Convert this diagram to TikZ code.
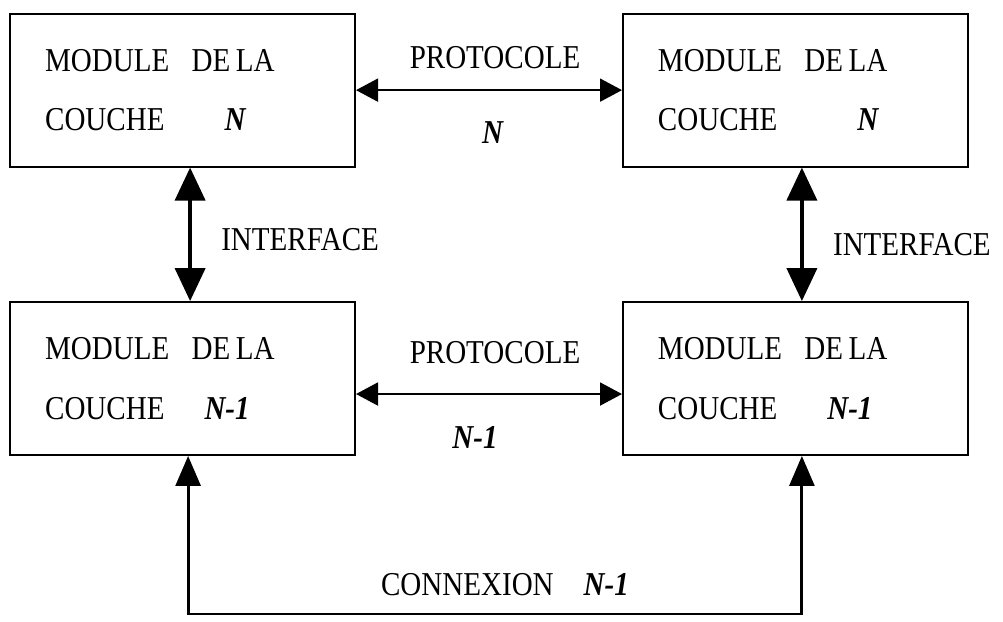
\documentclass[tikz,border=0pt]{standalone}
\usepackage{fontspec}
\setmainfont{Liberation Serif}[FakeStretch=0.87]
\usetikzlibrary{arrows.meta,positioning}

\tikzset{
  modbox/.style={draw, line width=1.1pt, minimum width=6.88cm, minimum height=3.06cm,
                 text width=5.5cm, inner xsep=0.7cm, align=left},
  lbl/.style={font=\fontsize{19}{34}\selectfont},
  ifarrow/.style={line width=2.2pt, {Triangle[length=0.66cm,width=0.6cm]}-{Triangle[length=0.66cm,width=0.6cm]}},
  protoarrow/.style={line width=1.1pt, {Triangle[length=0.44cm,width=0.46cm]}-{Triangle[length=0.44cm,width=0.46cm]}},
  cxarrow/.style={line width=1.6pt, {Triangle[length=0.6cm,width=0.5cm]}-{Triangle[length=0.6cm,width=0.5cm]}}
}
\newcommand{\nn}[1]{\textbf{\textit{#1}}}

\begin{document}
\begin{tikzpicture}
        \draw [help lines, opacity=0] (0,0) grid (20.06,12.42);
%        \foreach \x in {1,2,...,20} \node [font=\small] at (\x,0) {\x};
%        \foreach \y in {1,2,...,12} \node [font=\small] at (0,\y) {\y};
        \node [modbox, lbl] (tl) at (3.65,10.62) {MODULE\ \ DE\,LA\\COUCHE\hspace{1.2cm}\nn{N}};
        \node [modbox, lbl] (tr) at (15.91,10.62) {MODULE\ \ DE\,LA\\COUCHE\hspace{1.6cm}\nn{N}};
        \node [modbox, lbl] (bl) at (3.65,4.85) {MODULE\ \ DE\,LA\\COUCHE\hspace{0.8cm}\nn{N-1}};
        \node [modbox, lbl] (br) at (15.91,4.85) {MODULE\ \ DE\,LA\\COUCHE\hspace{1.0cm}\nn{N-1}};

        \node [lbl] (ptop) at (9.9,11.28) {PROTOCOLE};
        \node [lbl] (ntop) at (9.86,9.78) {\nn{N}};
        \node [lbl] (pbot) at (9.9,5.36) {PROTOCOLE};
        \node [lbl] (nbot) at (9.5,3.68) {\nn{N-1}};
        \node [lbl, right] (ifl) at (4.3,7.62) {INTERFACE};
        \node [lbl, right] (ifr) at (16.54,7.52) {INTERFACE};
        \node [lbl] (cx) at (10.1,0.72) {CONNEXION\hspace{0.6cm}\nn{N-1}};
        \coordinate (cxbot) at (10,0.14);

        \draw [protoarrow] (tl.east) -- (tr.west);
        \draw [protoarrow] ([yshift=-0.31cm]bl.east) -- ([yshift=-0.31cm]br.west);
        \draw [ifarrow] ([xshift=0.15cm]tl.south) -- ([xshift=0.15cm]bl.north);
        \draw [ifarrow] ([xshift=0.13cm]tr.south) -- ([xshift=0.13cm]br.north);
        \draw [cxarrow] ([xshift=0.11cm]bl.south) |- (cxbot) -| ([xshift=0.13cm]br.south);
      \end{tikzpicture}
\end{document}
